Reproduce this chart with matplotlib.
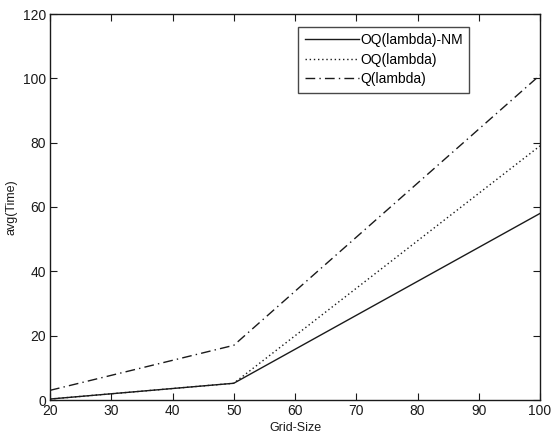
import matplotlib
matplotlib.use("Agg")
import matplotlib.pyplot as plt

plt.rcParams['font.family'] = ['Liberation Sans', 'DejaVu Sans']

grid_size = [20, 50, 100]
oq_nm = [0.3, 5.2, 58]
oq = [0.3, 5.2, 79]
q = [3, 17, 101]

xticks = [20, 30, 40, 50, 60, 70, 80, 90, 100]
yticks = [0, 20, 40, 60, 80, 100, 120]

fig = plt.figure(figsize=(5.54, 4.38), dpi=100)
ax = fig.add_axes([50/554, 38/438, 490/554, 386/438])
c = '#1a1a1a'
ax.plot(grid_size, oq_nm, '-', color=c, lw=1.0, label='OQ(lambda)-NM')
ax.plot(grid_size, oq, linestyle=(0, (1, 2)), color=c, lw=1.0, label='OQ(lambda)')
ax.plot(grid_size, q, linestyle=(0, (7, 3, 1, 3)), color=c, lw=1.0, label='Q(lambda)')
ax.set_xlim(20, 100)
ax.set_ylim(0, 120)
ax.set_xticks(xticks)
ax.set_yticks(yticks)
ax.tick_params(direction='in', top=True, right=True, labelsize=10, length=5, colors=c, pad=3)
for s in ax.spines.values():
    s.set_color(c)
    s.set_linewidth(1.0)
ax.set_xlabel('Grid-Size', fontsize=9, color=c, labelpad=3)
ax.set_ylabel('avg(Time)', fontsize=9, color=c, labelpad=4)
leg = ax.legend(loc='upper right', bbox_to_anchor=(419/490, 1 - 13/386), fontsize=10,
                frameon=True, fancybox=False, edgecolor=c, handlelength=3.9,
                handletextpad=0.1, borderpad=0.45, labelspacing=0.4, borderaxespad=0)
leg.get_frame().set_linewidth(1.0)
fig.savefig('out.png', dpi=100)
